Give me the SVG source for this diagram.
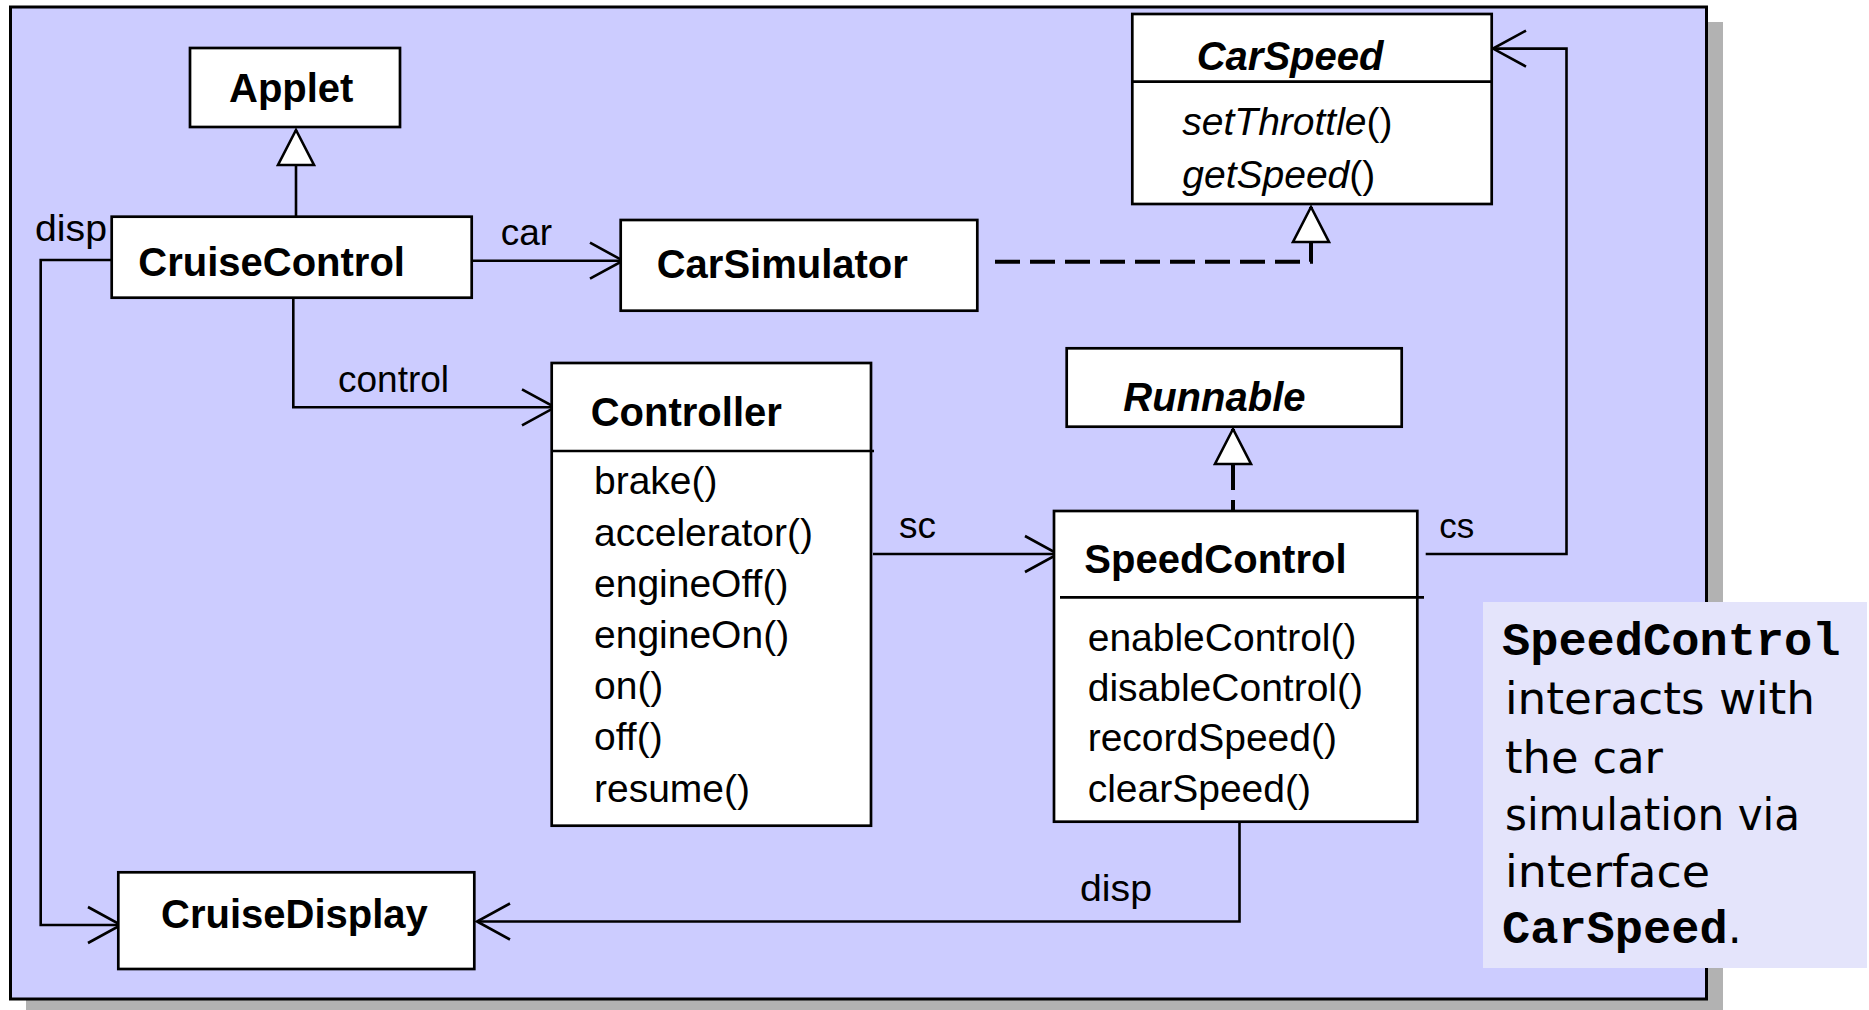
<svg xmlns="http://www.w3.org/2000/svg" width="1869" height="1010" viewBox="0 0 1869 1010">
<style>
.box{fill:#fff;stroke:#000;stroke-width:2.7}
.div{stroke:#000;stroke-width:2.7}
.ln{fill:none;stroke:#000;stroke-width:2.6}
.dash{stroke-width:4}
.t{font-family:"Liberation Sans",Arial,sans-serif;fill:#000}
.b{font-weight:bold;font-size:40px}
.bi{font-weight:bold;font-style:italic;font-size:40px}
.m{font-size:39px}
.lbl{font-size:37px}
.mono{font-family:"Liberation Mono","Courier New",monospace;font-weight:bold;font-size:47px;fill:#000}
.comic{font-family:"DejaVu Sans",sans-serif;font-size:44px;fill:#000}
</style>
<defs>
<marker id="open" viewBox="-40 -22 44 44" markerWidth="44" markerHeight="44" refX="0" refY="0" orient="auto" markerUnits="userSpaceOnUse">
<path d="M-33,-18 L0,0 L-33,18" fill="none" stroke="#000" stroke-width="2.6"/>
</marker>
<marker id="tri" viewBox="-40 -22 44 44" markerWidth="44" markerHeight="44" refX="0" refY="0" orient="auto" markerUnits="userSpaceOnUse">
<path d="M0,0 L-35,-18 L-35,18 Z" fill="#fff" stroke="#000" stroke-width="2.6"/>
</marker>
</defs>

<g id="background">
<rect x="26" y="22" width="1697" height="992" fill="#B2B2B2"/>
<rect x="10.5" y="7" width="1696" height="992" fill="#CCCCFF" stroke="#000" stroke-width="3"/>
</g>

<g id="connectors">
<path class="ln" d="M296,216.7 V130" marker-end="url(#tri)"/>
<path class="ln" d="M116,260 H40.7 V925 H121" marker-end="url(#open)"/>
<path class="ln" d="M471.7,260.7 H623" marker-end="url(#open)"/>
<path class="ln" d="M293.3,297.7 V407.3 H555" marker-end="url(#open)"/>
<path class="ln" d="M873,554 H1058" marker-end="url(#open)"/>
<path class="ln" d="M1425.7,554 H1566.5 V48.6 H1493" marker-end="url(#open)"/>
<path class="ln" d="M1239.5,821.7 V921.5 H477" marker-end="url(#open)"/>
<path class="ln dash" d="M995,261.7 H1311 V207" stroke-dasharray="25 10" marker-end="url(#tri)"/>
<path class="ln dash" d="M1233,511 V429" stroke-dasharray="11 10 100" marker-end="url(#tri)"/>
<text class="t lbl" x="35" y="240.7" textLength="72" lengthAdjust="spacingAndGlyphs">disp</text>
<text class="t lbl" x="500.7" y="245">car</text>
<text class="t lbl" x="338" y="391.7">control</text>
<text class="t lbl" x="899" y="538">sc</text>
<text class="t lbl" x="1439.3" y="538.3" style="font-size:35px">cs</text>
<text class="t lbl" x="1080" y="901" textLength="72" lengthAdjust="spacingAndGlyphs">disp</text>
</g>

<g id="Applet">
<rect class="box" x="190" y="48" width="210" height="79"/>
<text class="t b" x="229" y="101.7">Applet</text>
</g>

<g id="CruiseControl">
<rect class="box" x="111.7" y="216.7" width="360" height="81"/>
<text class="t b" x="138.3" y="276">CruiseControl</text>
</g>

<g id="CarSimulator">
<rect class="box" x="620.7" y="220" width="356.6" height="90.7"/>
<text class="t b" x="656.7" y="278.3">CarSimulator</text>
</g>

<g id="CarSpeed">
<rect class="box" x="1132.3" y="14" width="359.4" height="190"/>
<line class="div" x1="1132.3" y1="81.7" x2="1491.7" y2="81.7"/>
<text class="t bi" x="1196.7" y="70">CarSpeed</text>
<text class="t m" x="1182.3" y="135"><tspan font-style="italic">setThrottle</tspan>()</text>
<text class="t m" x="1182.3" y="188"><tspan font-style="italic">getSpeed</tspan>()</text>
</g>

<g id="Controller">
<rect class="box" x="551.7" y="363" width="319.3" height="462.7"/>
<line class="div" x1="551.7" y1="451" x2="874" y2="451"/>
<text class="t b" x="590.7" y="425.7">Controller</text>
<text class="t m" x="594" y="494.3">brake()</text>
<text class="t m" x="594" y="545.5">accelerator()</text>
<text class="t m" x="594" y="596.7">engineOff()</text>
<text class="t m" x="594" y="647.9">engineOn()</text>
<text class="t m" x="594" y="699.1">on()</text>
<text class="t m" x="594" y="750.3">off()</text>
<text class="t m" x="594" y="801.5">resume()</text>
</g>

<g id="Runnable">
<rect class="box" x="1066.7" y="348.3" width="335" height="78.4"/>
<text class="t bi" x="1123.3" y="411">Runnable</text>
</g>

<g id="SpeedControl">
<rect class="box" x="1054" y="511" width="363.3" height="310.7"/>
<line class="div" x1="1060" y1="597.3" x2="1424" y2="597.3"/>
<text class="t b" x="1084.3" y="572.7">SpeedControl</text>
<text class="t m" x="1087.7" y="650.7">enableControl()</text>
<text class="t m" x="1087.7" y="701">disableControl()</text>
<text class="t m" x="1087.7" y="751.3">recordSpeed()</text>
<text class="t m" x="1087.7" y="801.6">clearSpeed()</text>
</g>

<g id="CruiseDisplay">
<rect class="box" x="118.3" y="872.3" width="356" height="96.7"/>
<text class="t b" x="161" y="928.3">CruiseDisplay</text>
</g>

<g id="note">
<rect x="1483" y="602" width="384" height="366" fill="#E4E4FB"/>
<text class="mono" x="1502" y="655">SpeedControl</text>
<text class="comic" x="1505" y="714" textLength="310" lengthAdjust="spacingAndGlyphs">interacts with</text>
<text class="comic" x="1505" y="772.7" textLength="158" lengthAdjust="spacingAndGlyphs">the car</text>
<text class="comic" x="1505" y="830" textLength="295" lengthAdjust="spacingAndGlyphs">simulation via</text>
<text class="comic" x="1505" y="886.7" textLength="205" lengthAdjust="spacingAndGlyphs">interface</text>
<text x="1502" y="943.3"><tspan class="mono">CarSpeed</tspan><tspan class="comic">.</tspan></text>
</g>
</svg>
